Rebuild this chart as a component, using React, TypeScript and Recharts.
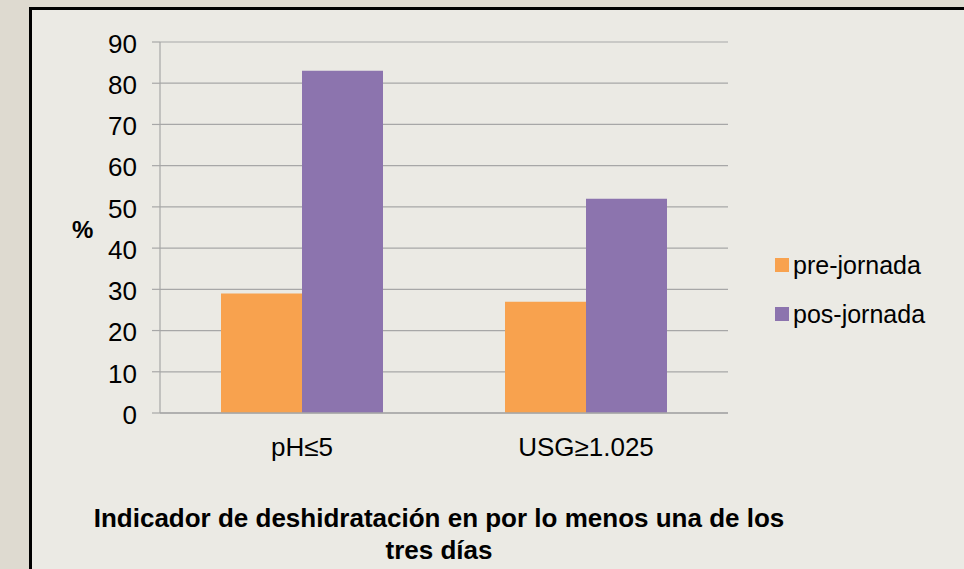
import { BarChart, Bar, XAxis, YAxis, CartesianGrid, Legend } from "recharts";

const FONT = "'Liberation Sans', Arial, sans-serif";

// Indicator categories on the x axis
const categories = ["pH≤5", "USG≥1.025"];
// Percentages
const preJornada = [29, 27];
const posJornada = [83, 52];
const yTicks = [0, 10, 20, 30, 40, 50, 60, 70, 80, 90];

const SERIES = [
  { key: "pre", name: "pre-jornada", color: "#F8A24E", values: preJornada },
  { key: "pos", name: "pos-jornada", color: "#8C74AE", values: posJornada },
];

const data = categories.map((c, i) => {
  const row: Record<string, string | number> = { cat: c };
  SERIES.forEach((s) => (row[s.key] = s.values[i]));
  return row;
});

function LegendBox(props: any) {
  // keep series order (recharts sorts legend items by name by default)
  const items = [...(props.payload || [])].sort(
    (a: any, b: any) =>
      SERIES.findIndex((s) => s.name === a.value) - SERIES.findIndex((s) => s.name === b.value)
  );
  return (
    <div style={{ fontFamily: FONT }}>
      {items.map((it: any, i: number) => (
        <div
          key={i}
          style={{
            display: "flex",
            alignItems: "center",
            height: 28,
            lineHeight: "28px",
            marginBottom: 21,
            fontSize: 25,
            color: "#000",
            whiteSpace: "nowrap",
          }}
        >
          <span style={{ width: 14, height: 14, background: it.color, marginRight: 4, display: "inline-block" }} />
          {it.value}
        </div>
      ))}
    </div>
  );
}

export default function App() {
  return (
    <div
      style={{
        position: "fixed",
        left: 0,
        top: 0,
        width: 964,
        height: 569,
        overflow: "hidden",
        background: "#dedad0",
        fontFamily: FONT,
      }}
    >
      {/* framed panel, runs past the right and bottom edges */}
      <div
        style={{
          position: "absolute",
          left: 29,
          top: 7,
          width: 1000,
          height: 600,
          border: "3px solid #000",
          background: "#ebeae4",
        }}
      />
      <div style={{ position: "absolute", left: 0, top: 0 }}>
        <BarChart
          width={964}
          height={569}
          data={data}
          margin={{ top: 42, right: 236, bottom: 96, left: 60 }}
          barGap={0}
        >
          <CartesianGrid vertical={false} stroke="#a7a7a7" strokeWidth={1.2} />
          <XAxis
            dataKey="cat"
            height={60}
            tickLine={false}
            tickSize={6}
            tickMargin={19}
            axisLine={{ stroke: "#a7a7a7", strokeWidth: 1.5 }}
            tick={{ fontSize: 26, fill: "#000", fontFamily: FONT }}
          />
          <YAxis
            width={100}
            domain={[0, 90]}
            ticks={yTicks}
            interval={0}
            tickSize={8}
            tickMargin={15}
            axisLine={{ stroke: "#a7a7a7", strokeWidth: 1.2 }}
            tickLine={{ stroke: "#a7a7a7", strokeWidth: 1.2 }}
            tick={{ fontSize: 26, fill: "#000", fontFamily: FONT, dy: 1.5 }}
            label={{
              value: "%",
              position: "insideLeft",
              offset: 12,
              fontSize: 24,
              fontWeight: "bold",
              fill: "#000",
              fontFamily: FONT,
              dy: 2,
            }}
          />
          <Legend
            layout="vertical"
            align="center"
            verticalAlign="middle"
            wrapperStyle={{ left: 775, top: 251, width: 180 }}
            content={<LegendBox />}
          />
          {SERIES.map((s) => (
            <Bar key={s.key} dataKey={s.key} name={s.name} fill={s.color} barSize={81} isAnimationActive={false} />
          ))}
        </BarChart>
      </div>
      <div
        style={{
          position: "absolute",
          left: 39,
          top: 502,
          width: 800,
          textAlign: "center",
          fontWeight: "bold",
          fontSize: 26,
          lineHeight: "32px",
          color: "#000",
        }}
      >
        Indicador de deshidratación en por lo menos una de los
        <br />
        tres días
      </div>
    </div>
  );
}
